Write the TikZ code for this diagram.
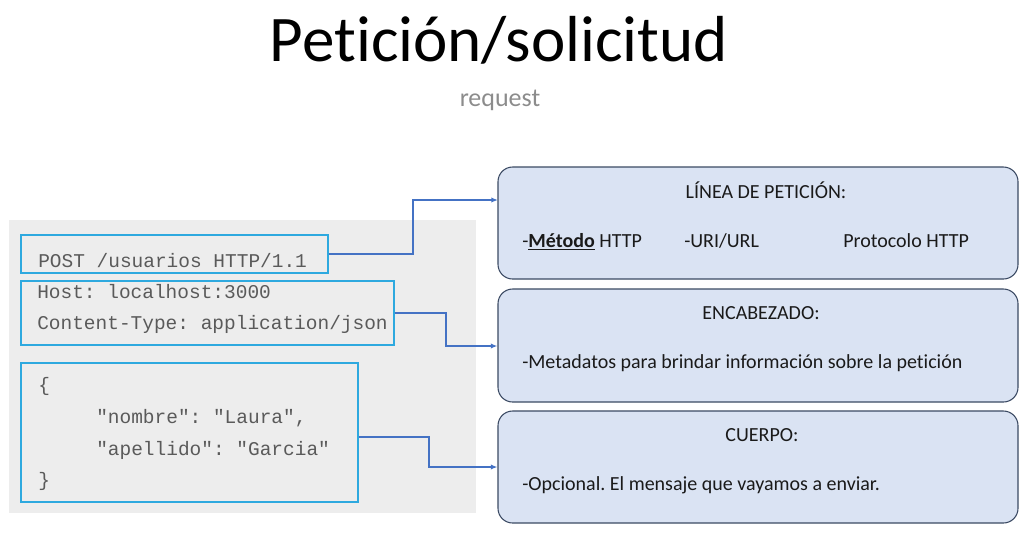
\documentclass[tikz,border=0pt]{standalone}
\usepackage{fontspec}
\setmainfont{Carlito}[Ligatures={NoCommon}]
\newfontfamily\codefont{Liberation Mono}
\usetikzlibrary{fit,arrows.meta}
\definecolor{bggray}{HTML}{EDEDED}
\definecolor{cyanline}{HTML}{2EA9DF}
\definecolor{linkblue}{HTML}{4472C4}
\definecolor{boxfill}{HTML}{DAE3F3}
\definecolor{boxline}{HTML}{3B4A63}
\definecolor{codegray}{HTML}{5A5A5A}
\definecolor{reqgray}{HTML}{8C8C8C}
\definecolor{bodytext}{HTML}{1A1A1A}
\tikzset{
  codebox/.style={draw=cyanline, line width=0.9pt, inner sep=0pt},
  infobox/.style={draw=boxline, fill=boxfill, line width=0.8pt, rounded corners=11pt, inner sep=0pt},
  codetxt/.style={anchor=base west, inner sep=0pt, text=codegray, font=\codefont\fontsize{14.6}{17}\selectfont},
  bodytxt/.style={anchor=base west, inner sep=0pt, text=bodytext, font=\fontsize{15}{18}\selectfont},
  headtxt/.style={anchor=base, inner sep=0pt, text=bodytext, font=\fontsize{15}{18}\selectfont},
  link/.style={draw=linkblue, line width=1pt, -{Latex[length=5pt,width=4pt]}}
}
\frenchspacing
\begin{document}
\begin{tikzpicture}[x=0.75pt,y=-0.75pt]
\useasboundingbox (0,0) rectangle (1027,544);
% title
\node[anchor=base, inner sep=0pt, font=\fontsize{48.8}{58}\selectfont] (title) at (499,61) {Petición/solicitud};
\node[anchor=base, inner sep=0pt, text=reqgray, font=\fontsize{19.5}{23}\selectfont] (sub) at (500,106) {request};
% gray background
\node[fit={(9,220) (476,513)}, fill=bggray, inner sep=0pt] (bg) {};
% code boxes
\node[fit={(21,235) (328,273)}, codebox] (b1) {};
\node[fit={(21,281) (394,345)}, codebox] (b2) {};
\node[fit={(21,363) (358,502)}, codebox] (b3) {};
% code text
\node[codetxt] (c1) at (38,267) {POST /usuarios HTTP/1.1};
\node[codetxt] (c2) at (37,298) {Host: localhost:3000};
\node[codetxt] (c3) at (37,329) {Content-Type: application/json};
\node[codetxt] (c4) at (38,391) {\{};
\node[codetxt] (c5) at (96,423) {"nombre": "Laura",};
\node[codetxt] (c6) at (96,455) {"apellido": "Garcia"};
\node[codetxt] (c7) at (38,486) {\}};
% info boxes
\node[fit={(498,167) (1018,279)}, infobox] (ba) {};
\node[fit={(498,289) (1018,402)}, infobox] (bb) {};
\node[fit={(498,411) (1018,523)}, infobox] (bc) {};
% info text
\node[headtxt] (ta) at (766,198) {LÍNEA DE PETICIÓN:};
\node[bodytxt] (ta1) at (522,247) {-\underline{\textbf{Método}} HTTP};
\node[bodytxt] (ta2) at (684,247) {-URI/URL};
\node[bodytxt] (ta3) at (843,247) {Protocolo HTTP};
\node[headtxt] (tb) at (761,319) {ENCABEZADO:};
\node[bodytxt] (tb1) at (522,368) {-Metadatos para brindar información sobre la petición};
\node[headtxt] (tc) at (762,441) {CUERPO:};
\node[bodytxt] (tc1) at (522,490) {-Opcional. El mensaje que vayamos a enviar.};
% connectors
\coordinate (ea) at (498,200);
\draw[link] (b1.east |- 0,254) -| (413,200) -- (ea);
\draw[link] (b2.east |- 0,313) -| (446,346) -- (bb.west |- 0,346);
\draw[link] (b3.east |- 0,437) -| (429,467) -- (bc.west);
\end{tikzpicture}
\end{document}
